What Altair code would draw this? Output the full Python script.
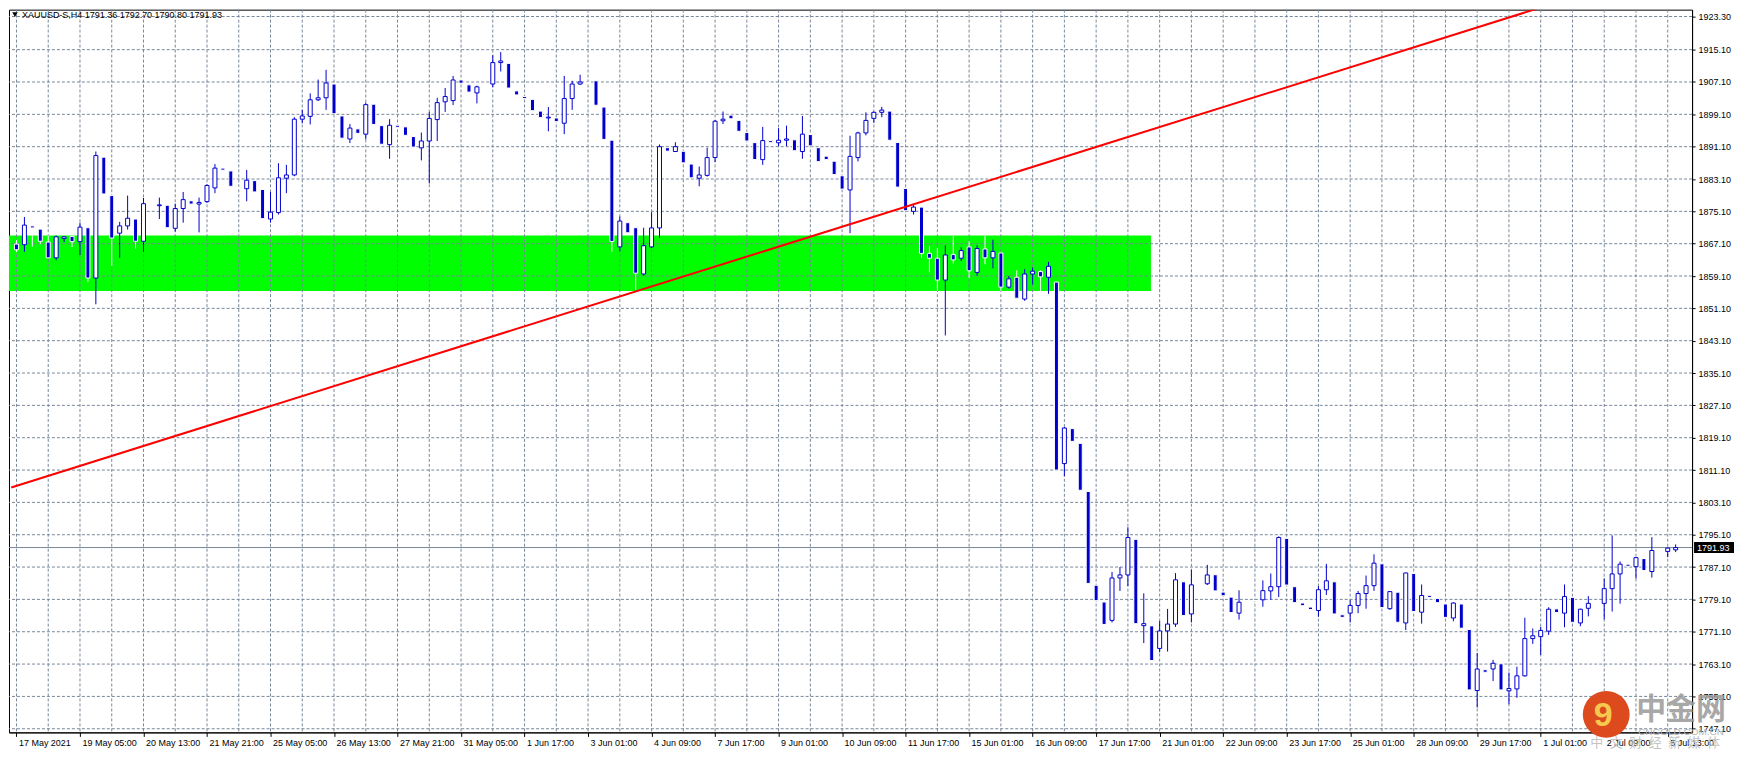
import altair as alt
import pandas as pd

BLUE = "#0000CD"
GRID = "#778899"

opens = [
    1867.0, 1866.85, 1871.5, 1870.7, 1867.5, 1863.6, 1868.4, 1868.9, 1867.6, 1871.05,
    1858.6, 1888.5, 1879.0, 1869.7, 1871.5, 1873.2, 1867.7, 1876.9, 1876.5, 1876.6,
    1870.9, 1875.8, 1877.7, 1876.9, 1877.5, 1880.9, 1885.8, 1885.1, 1881.0, 1880.7,
    1882.7, 1880.5, 1873.2, 1874.8, 1883.3, 1884.1, 1897.9, 1898.6, 1902.7, 1903.2,
    1906.6, 1898.7, 1893.0, 1895.5, 1894.2, 1901.6, 1896.3, 1891.6, 1896.4, 1896.0,
    1893.6, 1890.8, 1892.5, 1897.8, 1902.2, 1902.5, 1907.6, 1906.4, 1904.4, 1906.2,
    1906.6, 1911.9, 1911.7, 1904.9, 1903.5, 1902.8, 1899.9, 1898.2, 1898.2, 1896.9,
    1903.0, 1906.6, 1907.0, 1907.4, 1900.9, 1892.7, 1866.3, 1872.3, 1871.05, 1859.6,
    1866.3, 1871.0, 1890.85, 1889.9, 1889.96, 1886.8, 1883.3, 1884.0, 1888.4, 1897.5,
    1898.9, 1897.6, 1894.6, 1892.1, 1887.9, 1892.6, 1892.06, 1892.7, 1892.8, 1889.9,
    1894.1, 1890.85, 1888.75, 1887.5, 1883.9, 1880.4, 1888.4, 1894.5, 1898.1, 1899.6,
    1899.9, 1892.15, 1880.75, 1875.1, 1876.15, 1864.7, 1863.5, 1858.1, 1864.4, 1863.5,
    1866.3, 1860.0, 1865.8, 1863.6, 1864.8, 1856.35, 1858.8, 1853.4, 1859.6, 1860.2,
    1858.8, 1857.6, 1812.7, 1821.35, 1817.7, 1805.8, 1782.6, 1778.45, 1773.9, 1784.4,
    1785.15, 1793.96, 1772.6, 1772.55, 1766.97, 1771.3, 1773.0, 1783.45, 1775.5, 1782.8,
    1782.97, 1785.2, 1780.9, 1779.66, 1775.7, 1778.4, 1778.8, 1779.0, 1781.2, 1782.24,
    1794.2, 1782.24, 1778.2, 1777.2, 1776.35, 1781.5, 1783.45, 1775.3, 1775.7, 1777.6,
    1780.55, 1782.5, 1787.9, 1776.8, 1780.87, 1773.27, 1785.5, 1775.94, 1780.1, 1779.34,
    1777.96, 1774.5, 1777.96, 1771.66, 1756.55, 1761.7, 1761.88, 1763.18, 1756.47, 1756.95,
    1760.19, 1769.4, 1769.88, 1771.25, 1776.75, 1775.7, 1779.58, 1773.27, 1776.9, 1778.1,
    1778.12, 1781.76, 1785.4, 1787.8, 1787.19, 1789.2, 1786.0, 1791.2, 1790.97, 1791.36,
]
highs = [
    1868.0, 1873.7, 1871.5, 1870.7, 1869.1, 1869.1, 1869.0, 1869.0, 1872.3, 1871.05,
    1889.9, 1888.5, 1879.0, 1872.5, 1879.0, 1873.2, 1878.4, 1876.9, 1878.5, 1876.6,
    1877.0, 1879.9, 1877.7, 1878.5, 1881.8, 1886.8, 1885.8, 1885.1, 1881.0, 1885.35,
    1882.7, 1880.5, 1879.9, 1887.0, 1886.6, 1898.4, 1900.2, 1904.3, 1907.7, 1910.1,
    1906.6, 1898.7, 1896.7, 1895.5, 1902.0, 1901.6, 1896.3, 1897.9, 1896.4, 1896.0,
    1893.6, 1894.6, 1899.7, 1903.2, 1905.6, 1908.6, 1907.6, 1906.4, 1906.2, 1906.2,
    1913.7, 1914.5, 1911.7, 1904.9, 1903.5, 1902.8, 1899.9, 1900.9, 1898.2, 1908.6,
    1907.4, 1908.9, 1907.0, 1907.4, 1900.9, 1892.7, 1873.8, 1872.3, 1871.05, 1871.05,
    1874.9, 1891.65, 1890.85, 1892.2, 1889.96, 1886.8, 1886.2, 1890.85, 1897.7, 1899.8,
    1898.9, 1897.6, 1894.6, 1892.1, 1896.0, 1892.6, 1895.7, 1896.3, 1892.8, 1898.7,
    1894.1, 1890.85, 1888.75, 1887.5, 1883.9, 1893.8, 1894.8, 1899.6, 1899.8, 1900.96,
    1899.9, 1892.15, 1880.75, 1876.95, 1876.15, 1866.5, 1866.05, 1866.7, 1869.1, 1866.2,
    1867.7, 1866.7, 1869.1, 1868.1, 1864.8, 1859.1, 1860.5, 1860.8, 1861.2, 1860.5,
    1862.6, 1857.6, 1821.75, 1821.35, 1817.7, 1805.8, 1782.6, 1778.45, 1785.9, 1787.1,
    1796.95, 1793.96, 1780.6, 1772.55, 1773.75, 1776.75, 1785.6, 1783.45, 1786.4, 1782.8,
    1787.65, 1785.2, 1780.9, 1779.66, 1781.35, 1778.4, 1778.8, 1783.8, 1785.5, 1794.7,
    1794.2, 1782.24, 1778.2, 1777.2, 1782.4, 1787.9, 1783.45, 1775.3, 1778.9, 1781.2,
    1785.0, 1790.25, 1787.9, 1781.1, 1780.87, 1785.7, 1785.5, 1782.8, 1780.1, 1779.34,
    1777.96, 1778.4, 1777.96, 1771.66, 1765.84, 1761.7, 1764.15, 1763.18, 1761.0, 1762.45,
    1774.57, 1771.9, 1772.3, 1777.16, 1776.75, 1782.8, 1779.58, 1776.8, 1779.9, 1778.1,
    1784.27, 1794.93, 1788.5, 1787.8, 1789.5, 1789.2, 1794.5, 1791.2, 1791.9, 1792.70,
]
lows = [
    1865.0, 1865.1, 1866.4, 1867.0, 1863.6, 1863.0, 1867.5, 1866.3, 1864.3, 1857.6,
    1852.1, 1879.4, 1861.6, 1863.6, 1870.6, 1865.9, 1865.1, 1876.9, 1873.2, 1871.05,
    1870.1, 1872.3, 1876.9, 1869.9, 1877.2, 1879.6, 1885.3, 1881.3, 1881.0, 1877.6,
    1879.9, 1873.3, 1872.3, 1874.3, 1879.6, 1883.8, 1896.9, 1896.6, 1902.4, 1900.2,
    1899.25, 1893.2, 1892.0, 1894.4, 1892.9, 1896.6, 1891.7, 1888.1, 1895.9, 1893.9,
    1891.0, 1887.7, 1882.0, 1892.5, 1899.7, 1901.4, 1906.8, 1904.6, 1901.8, 1906.2,
    1905.8, 1909.7, 1905.6, 1903.9, 1903.0, 1900.0, 1898.3, 1894.9, 1897.3, 1894.2,
    1900.2, 1906.4, 1907.0, 1901.35, 1892.9, 1865.1, 1865.2, 1869.8, 1855.7, 1859.2,
    1866.0, 1868.5, 1890.0, 1889.8, 1887.1, 1883.4, 1881.3, 1883.7, 1887.3, 1896.7,
    1898.0, 1894.9, 1892.5, 1887.9, 1886.6, 1892.1, 1891.25, 1891.25, 1890.1, 1888.1,
    1891.3, 1887.4, 1887.9, 1883.0, 1880.6, 1869.7, 1887.45, 1893.9, 1897.0, 1898.4,
    1892.7, 1881.1, 1875.25, 1874.3, 1863.6, 1860.0, 1855.4, 1844.4, 1862.2, 1862.8,
    1858.6, 1859.2, 1862.0, 1861.0, 1855.4, 1856.0, 1853.6, 1852.95, 1857.0, 1855.4,
    1854.7, 1811.1, 1809.6, 1818.2, 1806.1, 1783.05, 1778.8, 1772.9, 1773.4, 1781.2,
    1782.4, 1773.1, 1768.3, 1763.98, 1766.0, 1766.2, 1772.3, 1775.1, 1773.4, 1782.8,
    1782.65, 1781.2, 1780.0, 1775.86, 1774.1, 1778.4, 1778.8, 1777.3, 1779.0, 1779.7,
    1782.65, 1778.3, 1777.55, 1776.6, 1774.8, 1780.2, 1775.5, 1774.65, 1773.4, 1775.7,
    1776.8, 1781.2, 1777.07, 1776.5, 1773.44, 1771.5, 1776.1, 1773.1, 1779.6, 1778.3,
    1774.65, 1773.7, 1771.98, 1756.7, 1752.35, 1761.07, 1758.9, 1756.7, 1753.16, 1754.77,
    1760.0, 1768.1, 1765.36, 1770.3, 1775.86, 1772.2, 1773.44, 1772.47, 1774.9, 1778.1,
    1774.16, 1776.1, 1778.04, 1787.3, 1784.24, 1786.25, 1784.5, 1791.2, 1789.55, 1790.80,
]
closes = [
    1865.6, 1871.7, 1871.0, 1867.7, 1863.6, 1868.8, 1868.8, 1867.6, 1871.2, 1858.6,
    1888.9, 1879.4, 1868.5, 1871.5, 1873.4, 1867.7, 1877.0, 1876.9, 1876.7, 1871.05,
    1875.8, 1878.0, 1876.9, 1877.3, 1881.5, 1885.8, 1885.3, 1881.3, 1881.0, 1882.8,
    1879.9, 1873.3, 1874.9, 1883.4, 1884.1, 1897.9, 1898.7, 1902.7, 1903.2, 1906.85,
    1899.25, 1893.2, 1895.7, 1894.4, 1901.5, 1896.6, 1891.7, 1896.4, 1895.9, 1893.9,
    1891.0, 1892.5, 1898.1, 1902.0, 1903.5, 1907.6, 1906.8, 1904.6, 1905.9, 1906.2,
    1911.9, 1912.3, 1905.6, 1903.9, 1903.0, 1900.0, 1898.3, 1898.4, 1897.3, 1903.0,
    1906.6, 1907.1, 1907.0, 1901.35, 1892.9, 1867.65, 1872.7, 1869.8, 1859.8, 1866.6,
    1871.0, 1891.1, 1890.0, 1891.1, 1887.1, 1883.4, 1884.1, 1888.4, 1897.4, 1897.9,
    1898.0, 1894.9, 1892.5, 1887.9, 1892.6, 1892.1, 1892.7, 1893.0, 1890.1, 1894.2,
    1891.3, 1887.4, 1887.9, 1884.2, 1880.6, 1888.7, 1894.5, 1897.6, 1899.6, 1900.15,
    1892.7, 1881.1, 1875.25, 1876.15, 1864.7, 1863.5, 1858.1, 1864.3, 1863.1, 1865.4,
    1860.4, 1865.9, 1863.6, 1865.2, 1856.35, 1858.4, 1853.6, 1859.6, 1860.3, 1858.9,
    1861.5, 1811.1, 1821.5, 1818.2, 1806.1, 1783.05, 1778.8, 1772.9, 1784.4, 1785.15,
    1794.4, 1773.1, 1773.1, 1763.98, 1771.3, 1773.0, 1783.94, 1775.1, 1782.7, 1782.8,
    1785.15, 1781.2, 1780.0, 1775.86, 1778.4, 1778.4, 1778.8, 1781.27, 1782.24, 1794.4,
    1782.65, 1778.3, 1777.55, 1776.6, 1781.5, 1783.7, 1775.5, 1774.65, 1777.6, 1780.55,
    1782.5, 1788.06, 1777.07, 1781.03, 1773.44, 1785.64, 1776.1, 1780.07, 1779.6, 1778.3,
    1774.65, 1778.2, 1771.98, 1756.7, 1761.88, 1761.07, 1763.3, 1756.7, 1757.04, 1760.19,
    1769.4, 1770.1, 1771.42, 1776.67, 1775.86, 1779.8, 1773.44, 1776.67, 1778.12, 1778.1,
    1781.76, 1785.4, 1787.82, 1787.3, 1789.43, 1786.25, 1791.2, 1791.2, 1791.8, 1791.93,
]

time_labels = [
    "17 May 2021", "19 May 05:00", "20 May 13:00", "21 May 21:00", "25 May 05:00",
    "26 May 13:00", "27 May 21:00", "31 May 05:00", "1 Jun 17:00", "3 Jun 01:00",
    "4 Jun 09:00", "7 Jun 17:00", "9 Jun 01:00", "10 Jun 09:00", "11 Jun 17:00",
    "15 Jun 01:00", "16 Jun 09:00", "17 Jun 17:00", "21 Jun 01:00", "22 Jun 09:00",
    "23 Jun 17:00", "25 Jun 01:00", "28 Jun 09:00", "29 Jun 17:00", "1 Jul 01:00",
    "2 Jul 09:00", "5 Jul 13:00",
]
price_ticks = [1747.10, 1755.10, 1763.10, 1771.10, 1779.10, 1787.10, 1795.10, 1803.10,
               1811.10, 1819.10, 1827.10, 1835.10, 1843.10, 1851.10, 1859.10, 1867.10,
               1875.10, 1883.10, 1891.10, 1899.10, 1907.10, 1915.10, 1923.30]
zone_start, zone_end = -1.0, 142.9
zone_low, zone_high = 1855.4, 1869.1
trend_idx = [-0.66, 191.46]
trend_price = [1806.8, 1925.2]
last_price = 1791.93
header_text = "XAUUSD-S,H4  1791.36 1792.70 1790.80 1791.93"

W, H = 1686, 724
xs = alt.Scale(domain=[-0.3125, 210.4375], nice=False, zero=False)
ys = alt.Scale(domain=[1746.2, 1925.0], nice=False, zero=False)

label_js = "[" + ",".join("'" + t + "'" for t in time_labels) + "]"
x_axis = alt.Axis(values=list(range(0, 8 * len(time_labels), 8)),
                  labelExpr=label_js + "[round(datum.value/8)]",
                  labelAlign="left", labelOffset=2, labelPadding=2, tickSize=4,
                  grid=False, title=None, labelFlush=False, labelOverlap=False)
y_axis = alt.Axis(orient="right", values=price_ticks, format=".2f", tickSize=3,
                  labelPadding=3, grid=False, title=None, labelOverlap=False,
                  labelFlush=False)

df = pd.DataFrame({"idx": list(range(len(opens))), "o": opens, "h": highs,
                   "l": lows, "c": closes})

bull = alt.datum.c > alt.datum.o

zone = alt.Chart(pd.DataFrame({"idx": [zone_start], "idx2": [zone_end],
                               "l": [zone_low], "h": [zone_high]})).mark_rect(
    color="#00FF00", clip=True).encode(
    x=alt.X("idx:Q", scale=xs, axis=x_axis), x2="idx2:Q",
    y=alt.Y("l:Q", scale=ys, axis=y_axis), y2="h:Q")

vgrid = alt.Chart(pd.DataFrame({"idx": list(range(0, 209, 4))})).mark_rule(
    color=GRID, strokeDash=[3, 2], strokeWidth=1).encode(
    x=alt.X("idx:Q", scale=xs, axis=x_axis))

hgrid = alt.Chart(pd.DataFrame({"p": price_ticks})).mark_rule(
    color=GRID, strokeDash=[3, 2], strokeWidth=1).encode(
    y=alt.Y("p:Q", scale=ys, axis=y_axis))

pline = alt.Chart(pd.DataFrame({"p": [last_price]})).mark_rule(
    color=GRID, strokeWidth=1).encode(y=alt.Y("p:Q", scale=ys, axis=y_axis))

wicks = alt.Chart(df).mark_rule(strokeWidth=1).encode(
    x=alt.X("idx:Q", scale=xs, axis=x_axis),
    y=alt.Y("l:Q", scale=ys, axis=y_axis), y2="h:Q",
    color=alt.when(bull).then(alt.value(BLUE)).otherwise(alt.value("white")))

bodies = alt.Chart(df).mark_bar(size=4, strokeWidth=1).encode(
    x=alt.X("idx:Q", scale=xs, axis=x_axis),
    y=alt.Y("o:Q", scale=ys, axis=y_axis), y2="c:Q",
    fill=alt.when(bull).then(alt.value("white")).otherwise(alt.value(BLUE)),
    stroke=alt.when(bull).then(alt.value(BLUE)).otherwise(alt.value("white")))

trend = alt.Chart(pd.DataFrame({"idx": trend_idx, "p": trend_price})).mark_line(
    color="#FF0000", strokeWidth=2, clip=True).encode(
    x=alt.X("idx:Q", scale=xs, axis=x_axis),
    y=alt.Y("p:Q", scale=ys, axis=y_axis))

pdf = pd.DataFrame({"p": [last_price], "t": [f"{last_price:.2f}"]})
pbox = alt.Chart(pdf).mark_tick(orient="horizontal", size=40, thickness=11,
                                color="black", opacity=1).encode(
    x=alt.value(W + 22), y=alt.Y("p:Q", scale=ys, axis=y_axis))
ptext = alt.Chart(pdf).mark_text(align="left", baseline="middle", color="white",
                                 font="Liberation Sans", fontSize=9).encode(
    x=alt.value(W + 5), y=alt.Y("p:Q", scale=ys, axis=y_axis), text="t:N")

hdf = pd.DataFrame({"t": [header_text]})
tri = alt.Chart(hdf).mark_point(shape="triangle-down", filled=True, size=30,
                                color="black", opacity=1).encode(
    x=alt.value(6), y=alt.value(5))
htext = alt.Chart(hdf).mark_text(align="left", baseline="middle", color="black",
                                 font="Liberation Sans", fontSize=9).encode(
    x=alt.value(13), y=alt.value(5), text="t:N")

wm = pd.DataFrame({"a": ["中金网"], "b": ["CNGOLD.COM.CN"],
                   "c": ["中\u2002文\u2002财\u2002经\u2002新\u2002媒\u2002体"], "d": ["9"]})
wm_circle = alt.Chart(wm).mark_point(shape="circle", filled=True, size=2200,
                                     color="#DC4A1E", opacity=1).encode(
    x=alt.value(1600), y=alt.value(706))
wm_swirl = alt.Chart(wm).mark_text(font="Liberation Sans", fontSize=34, fontWeight="bold",
                                   color="#F7C84E", align="center", baseline="middle").encode(
    x=alt.value(1597), y=alt.value(708), text="d:N")
wm_big = alt.Chart(wm).mark_text(font="Noto Sans CJK SC", fontSize=30, fontWeight="bold",
                                 color="#9A9A9A", opacity=0.85, align="center",
                                 baseline="middle").encode(
    x=alt.value(1675), y=alt.value(702), text="a:N")
wm_url = alt.Chart(wm).mark_text(font="Liberation Sans", fontSize=10, color="#B5B5B5",
                                 align="center", baseline="middle").encode(
    x=alt.value(1675), y=alt.value(724), text="b:N")
wm_sub = alt.Chart(wm).mark_text(font="Noto Sans CJK SC", fontSize=13, color="#C4C4C4",
                                 align="center", baseline="middle").encode(
    x=alt.value(1649), y=alt.value(735), text="c:N")

chart = alt.layer(
    zone, vgrid, hgrid, pline, wicks, bodies, trend, pbox, ptext, tri, htext,
    wm_circle, wm_swirl, wm_big, wm_url, wm_sub
).properties(width=W, height=H, padding=0, background="white").configure_view(
    stroke="black", strokeWidth=1
).configure_axis(
    labelFont="Liberation Sans", labelFontSize=9, labelColor="black",
    domainColor="black", tickColor="black", domainWidth=1, tickWidth=1
)

chart.save("out.html", embed_options={"renderer": "svg", "actions": False})
